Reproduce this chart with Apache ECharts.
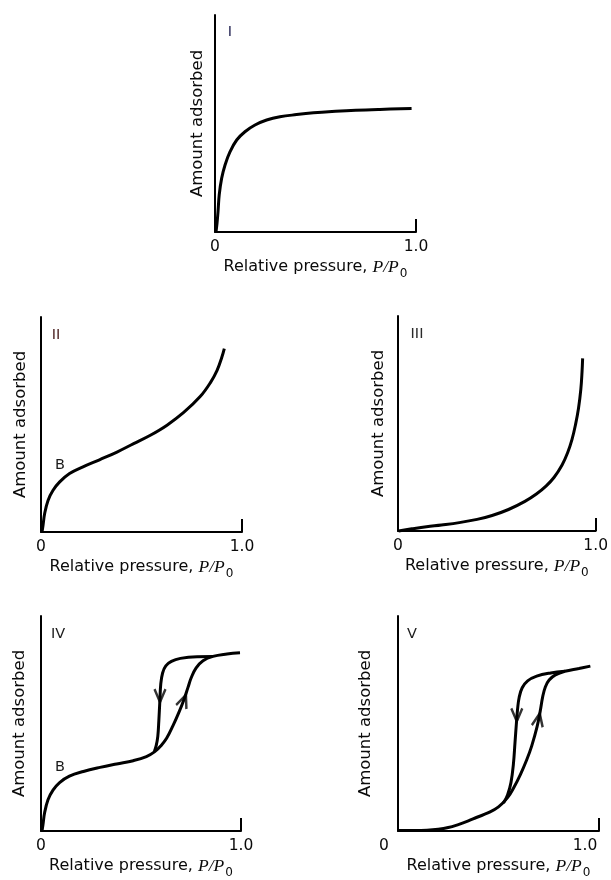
<!DOCTYPE html>
<html>
<head>
<meta charset="utf-8">
<script src="https://cdn.jsdelivr.net/npm/echarts@6/dist/echarts.min.js"></script>
<style>
html,body{margin:0;padding:0;background:#fff;}
#chart{width:611px;height:880px;}
</style>
</head>
<body>
<div id="chart"></div>
<script>
// ---- data ----
const xTickLabels = ['0', '1.0'];
const panelLabels = ['I', 'II', 'III', 'IV', 'V'];
const xAxisTitle = 'Relative pressure, ';
const xAxisTitleItalic = 'P/P';
const xAxisTitleSub = '0';
const yAxisTitle = 'Amount adsorbed';
const pointLabel = 'B';

const typeI = [[0.005,0],[0.01,0.04],[0.015,0.094],[0.021,0.171],[0.033,0.247],[0.05,0.309],[0.075,0.37],[0.108,0.424],[0.149,0.462],[0.199,0.493],[0.257,0.516],[0.323,0.531],[0.406,0.541],[0.49,0.549],[0.6,0.556],[0.7,0.561],[0.82,0.565],[0.978,0.569]];
const typeII = [[0.005,0],[0.01,0.03],[0.018,0.085],[0.035,0.147],[0.06,0.194],[0.093,0.233],[0.142,0.272],[0.209,0.303],[0.291,0.336],[0.378,0.372],[0.461,0.411],[0.544,0.45],[0.627,0.497],[0.71,0.556],[0.793,0.631],[0.843,0.695],[0.876,0.752],[0.9,0.814],[0.912,0.853]];
const typeIII = [[0.003,0],[0.07,0.01],[0.144,0.02],[0.22,0.028],[0.31,0.039],[0.4,0.054],[0.476,0.072],[0.559,0.1],[0.642,0.138],[0.7,0.172],[0.75,0.21],[0.79,0.25],[0.83,0.307],[0.858,0.364],[0.88,0.425],[0.898,0.495],[0.913,0.57],[0.925,0.66],[0.931,0.74],[0.934,0.803]];
const typeIVAds = [[0.005,0],[0.01,0.03],[0.018,0.085],[0.035,0.145],[0.06,0.19],[0.093,0.225],[0.142,0.255],[0.212,0.277],[0.295,0.296],[0.378,0.312],[0.461,0.327],[0.527,0.346],[0.569,0.369],[0.6,0.397],[0.628,0.431],[0.66,0.49],[0.69,0.553],[0.715,0.612],[0.735,0.668],[0.752,0.715],[0.775,0.758],[0.81,0.792],[0.86,0.812],[0.93,0.823],[0.995,0.829]];
const typeIVDes = [[0.86,0.812],[0.78,0.811],[0.697,0.803],[0.652,0.789],[0.624,0.768],[0.608,0.735],[0.599,0.685],[0.594,0.6],[0.589,0.51],[0.584,0.44],[0.576,0.397],[0.567,0.371]];
const typeVAds = [[0.003,0.002],[0.144,0.004],[0.2,0.008],[0.25,0.016],[0.3,0.03],[0.35,0.047],[0.393,0.064],[0.45,0.085],[0.5,0.112],[0.545,0.155],[0.575,0.2],[0.61,0.265],[0.64,0.33],[0.665,0.395],[0.692,0.485],[0.708,0.56],[0.72,0.625],[0.733,0.67],[0.752,0.702],[0.783,0.726],[0.83,0.743],[0.9,0.756],[0.957,0.767]];
const typeVDes = [[0.83,0.743],[0.76,0.735],[0.69,0.72],[0.645,0.698],[0.618,0.666],[0.603,0.622],[0.595,0.568],[0.589,0.5],[0.582,0.41],[0.574,0.31],[0.562,0.225],[0.545,0.167],[0.525,0.13]];
const upArrowsIV = [[0.713,0.605]];
const downArrowsIV = [[0.595,0.63]];
const upArrowsV = [[0.699,0.517]];
const downArrowsV = [[0.591,0.54]];

// ---- layout ----
const grids = [
  {left:215, top:15, width:201, height:217},
  {left:41, top:317, width:201, height:215},
  {left:398, top:316, width:201, height:215},
  {left:41, top:616, width:200, height:215},
  {left:398, top:616, width:201, height:215}
];
const yNameGaps = [9, 12, 10.5, 12.5, 24];
const labelShift = [0, 0, 0, 0, 28];
const FONT = '"DejaVu Sans", "Liberation Sans", sans-serif';
const SERIF = '"Liberation Serif", "DejaVu Serif", serif';
const INK = '#0a0a0a';

const xAxes = grids.map((g, i) => ({
  type: 'value', gridIndex: i, min: 0, max: 1, interval: 1,
  axisLine: {show: true, lineStyle: {color: '#000', width: 2}},
  axisTick: {show: true, inside: true, length: 13, lineStyle: {color: '#000', width: 2}},
  splitLine: {show: false},
  axisLabel: {
    show: true, margin: 7, color: INK, fontSize: 15.5, fontFamily: FONT,
    showMinLabel: true, showMaxLabel: true,
    padding: [0, labelShift[i], 0, 0],
    formatter: v => (v === 0 ? xTickLabels[0] : xTickLabels[1])
  },
  name: '{a|' + xAxisTitle + '}{i|' + xAxisTitleItalic + '}{s|' + xAxisTitleSub + '}',
  nameLocation: 'middle', nameGap: 22,
  nameTextStyle: {
    color: INK,
    rich: {
      a: {fontSize: 16, fontFamily: FONT, color: INK},
      i: {fontSize: 17.5, fontFamily: SERIF, fontStyle: 'italic', color: INK},
      s: {fontSize: 12, fontFamily: FONT, color: INK, padding: [14, 0, 0, 1]}
    }
  }
}));
const yAxes = grids.map((g, i) => ({
  type: 'value', gridIndex: i, min: 0, max: 1,
  axisLine: {show: true, lineStyle: {color: '#000', width: 2}},
  axisTick: {show: false}, axisLabel: {show: false}, splitLine: {show: false},
  name: yAxisTitle, nameLocation: 'middle', nameGap: yNameGaps[i],
  nameTextStyle: {color: INK, fontSize: 16.5, fontFamily: FONT}
}));

function curve(data, idx) {
  return {type: 'line', xAxisIndex: idx, yAxisIndex: idx, data: data,
    showSymbol: false, symbol: 'none', smooth: 0.4, clip: false, silent: true,
    lineStyle: {color: '#000', width: 3}};
}
const CHEVRON = 'path://M0,13L6,0L12,13';
function arrows(data, idx, rot) {
  return {type: 'scatter', xAxisIndex: idx, yAxisIndex: idx, data: data,
    symbol: CHEVRON, symbolSize: [11, 13], symbolRotate: rot, silent: true, clip: false,
    itemStyle: {color: 'rgba(0,0,0,0)', borderColor: '#000', borderWidth: 2.6}};
}

const textEl = (t, x, y, fill) => ({type: 'text', x: x, y: y, silent: true,
  style: {text: t, fill: fill, font: '14.5px ' + FONT, align: 'center', verticalAlign: 'middle'}});

const option = {
  animation: false,
  backgroundColor: '#fff',
  grid: grids.map(g => Object.assign({containLabel: false}, g)),
  xAxis: xAxes,
  yAxis: yAxes,
  series: [
    curve(typeI, 0),
    curve(typeII, 1),
    curve(typeIII, 2),
    curve(typeIVAds, 3),
    curve(typeIVDes, 3),
    curve(typeVAds, 4),
    curve(typeVDes, 4),
    arrows(upArrowsIV, 3, -21),
    arrows(downArrowsIV, 3, 180),
    arrows(upArrowsV, 4, -11),
    arrows(downArrowsV, 4, 180)
  ],
  graphic: [
    textEl(panelLabels[0], 230, 32, '#2a2a58'),
    textEl(panelLabels[1], 56, 335, '#4a1f1f'),
    textEl(panelLabels[2], 417, 334, '#2a2a2a'),
    textEl(panelLabels[3], 58, 634, '#1a1a1a'),
    textEl(panelLabels[4], 412, 634, '#1a1a1a'),
    textEl(pointLabel, 60, 465, '#1a1a1a'),
    textEl(pointLabel, 60, 767, '#1a1a1a')
  ]
};
const chart = echarts.init(document.getElementById('chart'), null, {renderer: 'canvas'});
chart.setOption(option);
</script>
</body>
</html>
